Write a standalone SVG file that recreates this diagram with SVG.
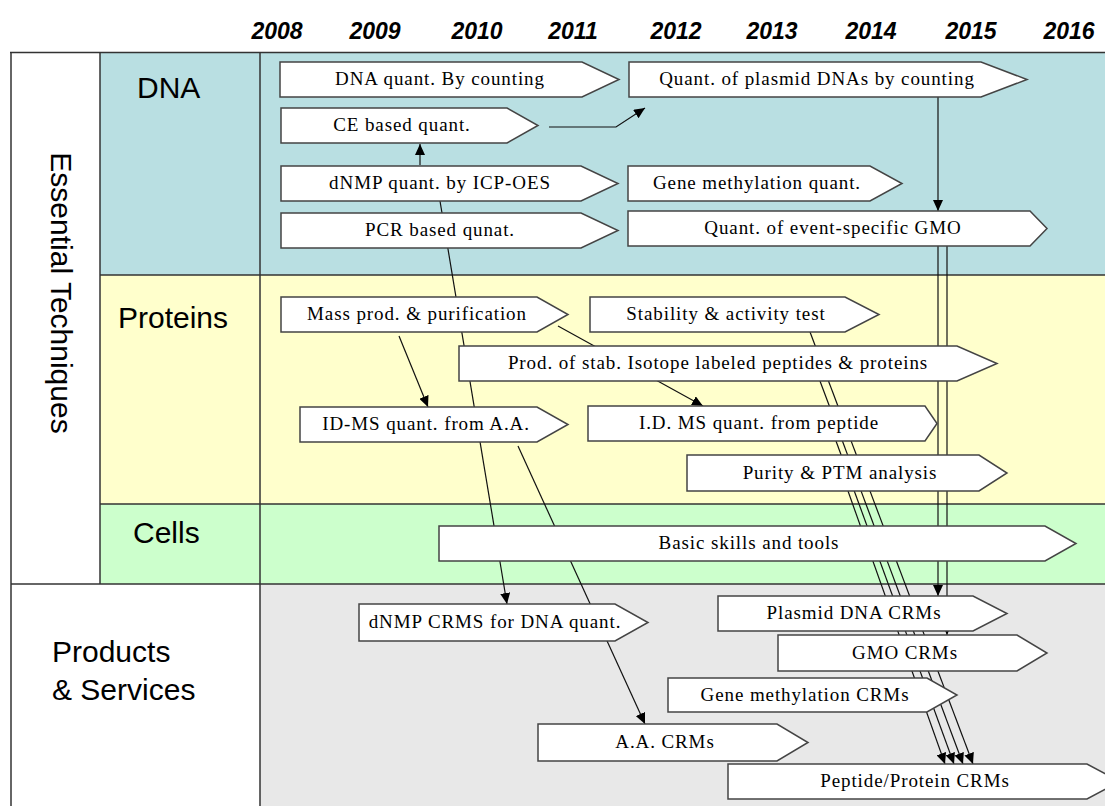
<svg xmlns="http://www.w3.org/2000/svg" width="1105" height="806" viewBox="0 0 1105 806">
  <style>
    .grid { stroke: #333; stroke-width: 1.5; fill: none; }
    .year { font-family: "Liberation Sans", Arial, sans-serif; font-size: 23px; font-weight: bold; font-style: italic; fill: #000; text-anchor: middle; }
    .cat { font-family: "Liberation Sans", Arial, sans-serif; font-size: 30px; fill: #000; }
    .box { fill: #fff; stroke: #444; stroke-width: 1.5; stroke-linejoin: miter; }
    .lbl { font-family: "Liberation Serif", "Times New Roman", serif; font-size: 19px; letter-spacing: 0.9px; fill: #000; text-anchor: middle; }
    .link { stroke: #111; stroke-width: 1.2; fill: none; marker-end: url(#arrow); }
  </style>
  <defs>
    <marker id="arrow" markerUnits="userSpaceOnUse" markerWidth="12" markerHeight="10" refX="11" refY="5" orient="auto">
      <path d="M0,0 L11,5 L0,10 z" fill="#000"/>
    </marker>
  </defs>

  <!-- background bands -->
  <rect x="0" y="0" width="1105" height="806" fill="#fff"/>
  <rect x="100" y="52" width="1005" height="223" fill="#b9dfe2"/>
  <rect x="100" y="275" width="1005" height="229" fill="#ffffcc"/>
  <rect x="100" y="504" width="1005" height="80" fill="#ccffcc"/>
  <rect x="260" y="584" width="845" height="222" fill="#e8e8e8"/>

  <!-- table rules -->
  <g class="grid">
    <line x1="10" y1="52.5" x2="1105" y2="52.5"/>
    <line x1="100" y1="275" x2="1105" y2="275"/>
    <line x1="100" y1="504" x2="1105" y2="504"/>
    <line x1="11" y1="584" x2="1105" y2="584"/>
    <line x1="11" y1="52" x2="11" y2="806"/>
    <line x1="100" y1="52" x2="100" y2="584"/>
    <line x1="260" y1="52" x2="260" y2="806"/>
  </g>

  <!-- year scale -->
  <g id="years">
    <text class="year" x="277" y="39">2008</text>
    <text class="year" x="375" y="39">2009</text>
    <text class="year" x="477" y="39">2010</text>
    <text class="year" x="573" y="39">2011</text>
    <text class="year" x="676" y="39">2012</text>
    <text class="year" x="772" y="39">2013</text>
    <text class="year" x="871" y="39">2014</text>
    <text class="year" x="971" y="39">2015</text>
    <text class="year" x="1069" y="39">2016</text>
  </g>

  <!-- row headers -->
  <g id="headers">
    <text class="cat" transform="translate(51,293) rotate(90)" text-anchor="middle">Essential Techniques</text>
    <text class="cat" x="137" y="98">DNA</text>
    <text class="cat" x="118" y="328">Proteins</text>
    <text class="cat" x="133" y="543">Cells</text>
    <text class="cat" x="52" y="662">Products</text>
    <text class="cat" x="52" y="700">&amp; Services</text>
  </g>

  <!-- connectors -->
  <g id="connectors">
    <polyline class="link" points="549,127 616,127 645,108"/>
    <line class="link" x1="420" y1="165" x2="420" y2="144"/>
    <line class="link" x1="938" y1="97" x2="938" y2="211"/>
    <line class="link" x1="938" y1="246" x2="938" y2="596"/>
    <line class="link" x1="947" y1="246" x2="947" y2="635"/>
    <line class="link" x1="440" y1="201" x2="507" y2="604"/>
    <line class="link" x1="399" y1="336" x2="428" y2="407"/>
    <line class="link" x1="558" y1="326" x2="703" y2="406"/>
    <line class="link" x1="518" y1="446" x2="645" y2="724"/>
    <line class="link" x1="810" y1="332" x2="973" y2="764"/>
    <line class="link" x1="820" y1="381" x2="963" y2="764"/>
    <line class="link" x1="836" y1="441" x2="954" y2="764"/>
    <line class="link" x1="848" y1="491" x2="945" y2="764"/>
  </g>

  <!-- DNA -->
  <g id="dna-counting">
    <path class="box" d="M280,62 H582 L619,79.5 L582,97 H280 Z"/>
    <text class="lbl" x="440" y="85">DNA quant. By counting</text>
  </g>
  <g id="plasmid-counting">
    <path class="box" d="M629,62 H981 L1027,79.5 L981,97 H629 Z"/>
    <text class="lbl" x="817" y="85">Quant. of plasmid DNAs by counting</text>
  </g>
  <g id="ce-quant">
    <path class="box" d="M281,108 H507 L538,125.5 L507,143 H281 Z"/>
    <text class="lbl" x="402" y="131">CE based quant.</text>
  </g>
  <g id="dnmp-icp">
    <path class="box" d="M281,166 H581 L618,183.5 L581,201 H281 Z"/>
    <text class="lbl" x="440" y="189">dNMP quant. by ICP-OES</text>
  </g>
  <g id="gene-methylation">
    <path class="box" d="M628,166 H870 L902,183.5 L870,201 H628 Z"/>
    <text class="lbl" x="757" y="189">Gene methylation quant.</text>
  </g>
  <g id="pcr-quant">
    <path class="box" d="M281,213 H581 L618,230.5 L581,248 H281 Z"/>
    <text class="lbl" x="440" y="236">PCR based qunat.</text>
  </g>
  <g id="gmo-event">
    <path class="box" d="M628,211 H1030 L1047,228.5 L1030,246 H628 Z"/>
    <text class="lbl" x="833" y="234">Quant. of event-specific GMO</text>
  </g>

  <!-- Proteins -->
  <g id="mass-prod">
    <path class="box" d="M281,297 H537 L568,314.5 L537,332 H281 Z"/>
    <text class="lbl" x="417" y="320">Mass prod. &amp; purification</text>
  </g>
  <g id="stability">
    <path class="box" d="M590,297 H845 L879,314.5 L845,332 H590 Z"/>
    <text class="lbl" x="726" y="320">Stability &amp; activity test</text>
  </g>
  <g id="isotope-labeled">
    <path class="box" d="M459,346 H957 L997,363.5 L957,381 H459 Z"/>
    <text class="lbl" x="718" y="369">Prod. of stab. Isotope labeled peptides &amp; proteins</text>
  </g>
  <g id="idms-aa">
    <path class="box" d="M300,407 H537 L568,424.5 L537,442 H300 Z"/>
    <text class="lbl" x="426" y="430">ID-MS quant. from A.A.</text>
  </g>
  <g id="idms-peptide">
    <path class="box" d="M588,406 H925 L937,423.5 L925,441 H588 Z"/>
    <text class="lbl" x="759" y="429">I.D. MS quant. from peptide</text>
  </g>
  <g id="purity-ptm">
    <path class="box" d="M687,455 H979 L1007,473 L979,491 H687 Z"/>
    <text class="lbl" x="840" y="479">Purity &amp; PTM analysis</text>
  </g>

  <!-- Cells -->
  <g id="basic-skills">
    <path class="box" d="M439,526 H1045 L1076,543.5 L1045,561 H439 Z"/>
    <text class="lbl" x="749" y="549">Basic skills and tools</text>
  </g>

  <!-- Products & Services -->
  <g id="dnmp-crms">
    <path class="box" d="M359,604 H615 L648,622.5 L615,641 H359 Z"/>
    <text class="lbl" x="495" y="628">dNMP CRMS for DNA quant.</text>
  </g>
  <g id="plasmid-crms">
    <path class="box" d="M718,596 H973 L1007,613.5 L973,631 H718 Z"/>
    <text class="lbl" x="854" y="619">Plasmid DNA CRMs</text>
  </g>
  <g id="gmo-crms">
    <path class="box" d="M778,635 H1017 L1047,653 L1017,671 H778 Z"/>
    <text class="lbl" x="905" y="659">GMO CRMs</text>
  </g>
  <g id="methylation-crms">
    <path class="box" d="M668,678 H927 L957,695 L927,712 H668 Z"/>
    <text class="lbl" x="805" y="701">Gene methylation CRMs</text>
  </g>
  <g id="aa-crms">
    <path class="box" d="M538,724 H777 L808,742.5 L777,761 H538 Z"/>
    <text class="lbl" x="665" y="748">A.A. CRMs</text>
  </g>
  <g id="peptide-crms">
    <path class="box" d="M728,764 H1087 L1120,781.5 L1087,799 H728 Z"/>
    <text class="lbl" x="915" y="787">Peptide/Protein CRMs</text>
  </g>
</svg>
